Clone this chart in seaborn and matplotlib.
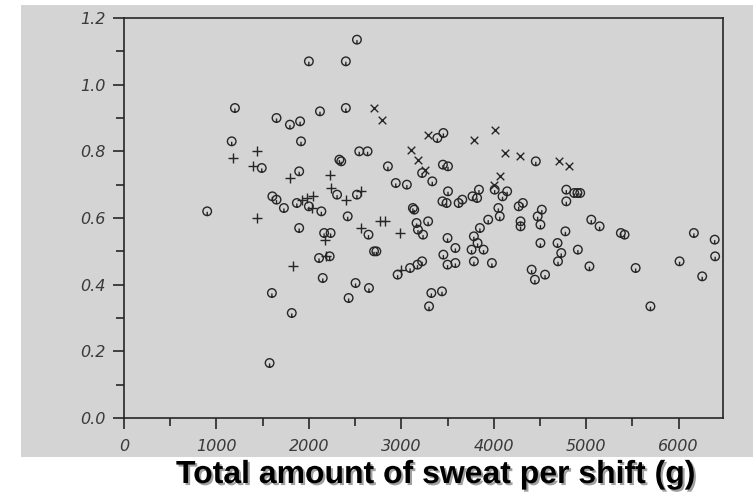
import pandas as pd
import matplotlib
matplotlib.use("Agg")
import matplotlib.pyplot as plt
from matplotlib.path import Path
from matplotlib.markers import MarkerStyle
from matplotlib.ticker import MultipleLocator
from matplotlib.patches import Rectangle
import matplotlib.patheffects as pe
import seaborn as sns

# Shift sweat totals (g) and the matching ratio, one pair of lists per marker group
circle_sweat = [
    1200, 1650, 1795, 1905, 2120, 2400, 1165, 1915, 1490, 1895, 2330, 2350,
    2545, 2635, 2305, 2520, 1605, 1650, 1730, 1870, 2000, 2135, 900, 2420,
    1895, 2165, 2235, 2645, 2705, 2110, 2225, 2150, 2505, 2650, 2430, 1600,
    1815, 1575, 2000, 2400, 2520,
    2855, 2940, 3060, 3225, 3335, 3390, 3455, 3450, 3505, 3505, 3445, 3490,
    3620, 3660, 3770, 3820, 3840, 4010, 4095, 4145, 4455,
    3125, 3140, 3165, 3180, 3235, 3290, 2730, 2960, 3095, 3175, 3225, 3325,
    3440, 3300,
    3500, 3585, 3455, 3500, 3585, 3785, 3825, 3760, 3890, 3850, 3940, 3785,
    3980, 4050, 4065,
    4270, 4315, 4290, 4290, 4520, 4475, 4505, 4505, 4410, 4445, 4555,
    4785, 4870, 4905, 4935, 4785, 5055, 5145, 4775, 5375, 5415, 6165,
    4690, 4730, 4695, 4910, 5035, 6390, 6395, 6010, 5535, 6255, 5695,
]
circle_ratio = [
    0.93, 0.90, 0.88, 0.89, 0.92, 0.93, 0.83, 0.83, 0.75, 0.74, 0.775, 0.77,
    0.80, 0.80, 0.67, 0.67, 0.665, 0.655, 0.63, 0.645, 0.635, 0.62, 0.62, 0.605,
    0.57, 0.555, 0.555, 0.55, 0.50, 0.48, 0.485, 0.42, 0.405, 0.39, 0.36, 0.375,
    0.315, 0.165, 1.07, 1.07, 1.135,
    0.755, 0.705, 0.70, 0.735, 0.71, 0.84, 0.855, 0.76, 0.755, 0.68, 0.65, 0.645,
    0.645, 0.655, 0.665, 0.66, 0.685, 0.685, 0.665, 0.68, 0.77,
    0.63, 0.625, 0.585, 0.565, 0.55, 0.59, 0.50, 0.43, 0.45, 0.46, 0.47, 0.375,
    0.38, 0.335,
    0.54, 0.51, 0.49, 0.46, 0.465, 0.545, 0.525, 0.505, 0.505, 0.57, 0.595, 0.47,
    0.465, 0.63, 0.605,
    0.635, 0.645, 0.59, 0.575, 0.625, 0.605, 0.58, 0.525, 0.445, 0.415, 0.43,
    0.685, 0.675, 0.675, 0.675, 0.65, 0.595, 0.575, 0.56, 0.555, 0.55, 0.555,
    0.525, 0.495, 0.47, 0.505, 0.455, 0.535, 0.485, 0.47, 0.45, 0.425, 0.335,
]

plus_sweat = [1440, 1175, 1400, 1795, 2225, 2240, 2405, 2560, 1925, 1980, 2045,
              2030, 1440, 2560, 2175, 2190, 1830, 2770, 2820, 2985, 3000]
plus_ratio = [0.80, 0.78, 0.755, 0.72, 0.73, 0.69, 0.655, 0.68, 0.655, 0.66, 0.665,
              0.63, 0.60, 0.57, 0.535, 0.485, 0.455, 0.59, 0.59, 0.555, 0.445]

cross_sweat = [2700, 2790, 3290, 3785, 4015, 3110, 3185, 3260, 4120, 4285, 4070,
               4005, 4705, 4810]
cross_ratio = [0.93, 0.895, 0.85, 0.835, 0.865, 0.805, 0.775, 0.745, 0.795, 0.785,
               0.725, 0.70, 0.77, 0.755]

x_ticks = [0, 1000, 2000, 3000, 4000, 5000, 6000]
y_ticks = [0.0, 0.2, 0.4, 0.6, 0.8, 1.0, 1.2]
x_tick_labels = ["0", "1000", "2000", "3000", "4000", "5000", "6000"]
y_tick_labels = ["0.0", "0.2", "0.4", "0.6", "0.8", "1.0", "1.2"]
x_label = "Total amount of sweat per shift (g)"

circles = pd.DataFrame({"sweat": circle_sweat, "ratio": circle_ratio})
pluses = pd.DataFrame({"sweat": plus_sweat, "ratio": plus_ratio})
crosses = pd.DataFrame({"sweat": cross_sweat, "ratio": cross_ratio})

GRAY = "#d4d4d4"
INK = "#262626"
LABEL_INK = "#3a3a3a"

sns.set_theme(style="ticks")
plt.rcParams["font.family"] = ["DejaVu Sans"]

W, H = 753, 496
fig = plt.figure(figsize=(W / 100, H / 100), dpi=100)
fig.patch.set_facecolor("white")

# grey panel behind the plot
fig.patches.append(Rectangle((21 / W, 1 - 457 / H), (W - 21) / W, (457 - 5) / H,
                             transform=fig.transFigure, facecolor=GRAY,
                             edgecolor="none", zorder=-5))

ax = fig.add_axes([124 / W, 1 - 418 / H, (723 - 124) / W, 400 / H])
ax.set_zorder(2)
ax.set_facecolor(GRAY)

# open ring with a short stem, used for the main group
ring = Path.make_compound_path(
    Path.unit_circle(),
    Path([(0, -0.1), (0, -1.0)], [Path.MOVETO, Path.LINETO]),
)
ring_marker = MarkerStyle(ring, fillstyle="none")

sns.scatterplot(data=circles, x="sweat", y="ratio", ax=ax, marker=ring_marker,
                s=38, color=INK, linewidth=1.0, zorder=3, legend=False)
sns.scatterplot(data=pluses, x="sweat", y="ratio", ax=ax, marker="+",
                s=48, color=INK, linewidth=1.0, zorder=3, legend=False)
sns.scatterplot(data=crosses, x="sweat", y="ratio", ax=ax, marker="x",
                s=30, color=INK, linewidth=1.0, zorder=3, legend=False)

ax.set_xlim(0, 6480)
ax.set_ylim(0, 1.2)
tick_font = dict(fontstyle="italic", fontsize=11.5, color=LABEL_INK)
ax.set_xticks(x_ticks, labels=x_tick_labels, **tick_font)
ax.set_yticks(y_ticks, labels=y_tick_labels, **tick_font)
ax.xaxis.set_minor_locator(MultipleLocator(500))
ax.yaxis.set_minor_locator(MultipleLocator(0.1))

for side in ["left", "right", "top", "bottom"]:
    ax.spines[side].set_visible(True)
    ax.spines[side].set_color(INK)
    ax.spines[side].set_linewidth(1.2)

ax.tick_params(which="major", direction="out", length=8, width=1.2, color=INK, pad=5)
ax.tick_params(which="minor", direction="out", length=6, width=1.2, color=INK)
ax.tick_params(axis="x", which="major", pad=7)
ax.tick_params(top=False, right=False, which="both")

ax.set_ylabel("")
ax.set_xlabel(x_label, fontsize=23, fontweight="bold",
              family=["Liberation Sans", "DejaVu Sans"], color="black",
              path_effects=[pe.withSimplePatchShadow(offset=(1.5, -1.5),
                                                     shadow_rgbFace="#888888",
                                                     alpha=0.8)])
ax.xaxis.set_label_coords((436 - 124) / (723 - 124), (418 - 460) / 400)

fig.savefig("out.png", dpi=100, facecolor="white")
